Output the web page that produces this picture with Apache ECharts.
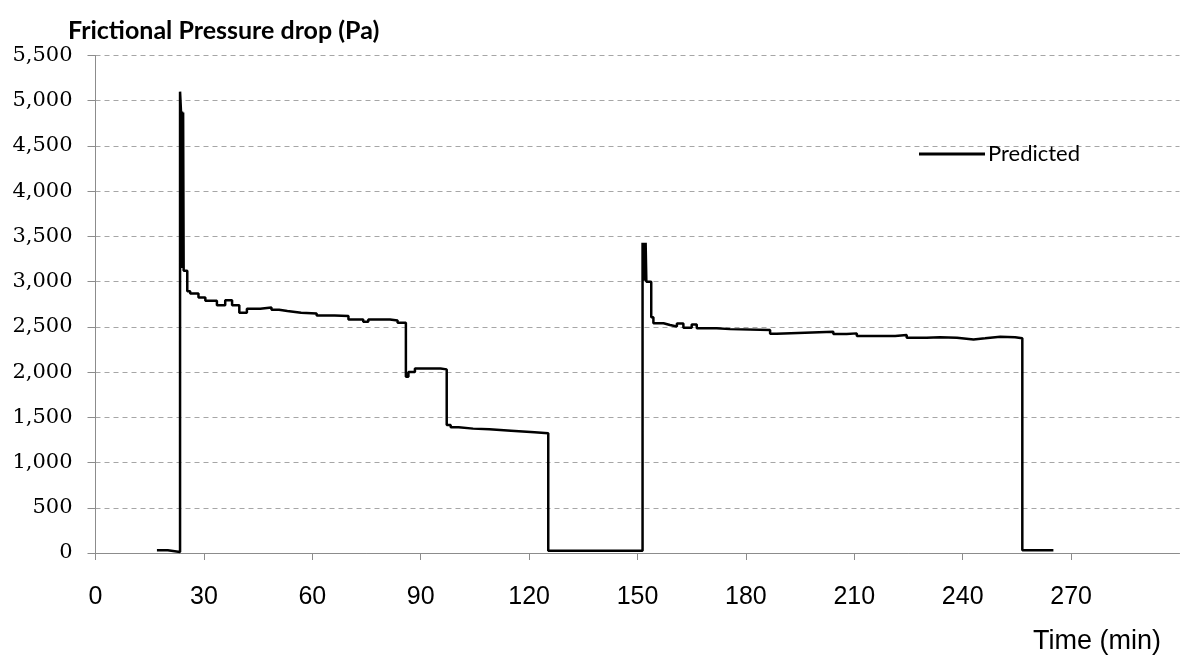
<!DOCTYPE html>
<html>
<head>
<meta charset="utf-8">
<script src="https://cdn.jsdelivr.net/npm/echarts@6/dist/echarts.min.js"></script>
<style>
  html, body { margin: 0; padding: 0; background: #ffffff; }
  #chart { width: 1187px; height: 666px; }
</style>
</head>
<body>
<div id="chart"></div>
<script>
// Frictional pressure drop over time; each value holds until the next time stamp.
const timeMin = [
  17.0, 20.0,
  23.4, 23.65, 23.8, 23.95, 24.1, 24.25, 24.4,
  25.4, 26.2, 28.5, 30.4, 33.6, 35.9, 37.8, 39.8, 41.9, 45.6, 48.7, 50.8, 53.1,
  56.9, 61.2, 66.2, 70.0, 74.1, 75.5, 81.5, 83.6,
  85.9, 86.6, 88.4, 94.6, 95.5,
  97.2, 98.3, 100.5, 104.5, 109.0, 115.0, 121.5,
  125.3,
  151.4, 151.65, 151.85, 152.05, 152.25, 152.45,
  153.8, 154.4, 157.2, 159.0, 160.9, 162.7, 165.0, 166.4, 171.9, 175.6,
  186.7, 188.5, 204.2, 207.9, 210.7, 221.3, 224.5, 230.0, 233.7, 238.4,
  243.0, 246.2, 250.4, 254.5,
  256.5, 265.1
];
const pressurePa = [
  30, 12,
  5100, 4890, 3150, 4880, 3150, 4870, 3120,
  2895, 2870, 2825, 2790, 2740, 2795, 2740, 2655, 2700, 2715, 2690, 2675, 2655,
  2648, 2625, 2620, 2582, 2556, 2582, 2570, 2545,
  1948, 2000, 2040, 2040, 2030,
  1414, 1390, 1375, 1367, 1351, 1334, 1323,
  25,
  3430, 3010, 3430, 3010, 3430, 3000,
  2605, 2540, 2520, 2505, 2538, 2490, 2527, 2485, 2475, 2465,
  2425, 2445, 2420, 2428, 2398, 2409, 2379, 2384, 2379, 2361,
  2373, 2390, 2384, 2373,
  30, 30
];

const seriesName = 'Predicted';
const chartTitle = 'Frictional Pressure drop (Pa)';
const xAxisTitle = 'Time (min)';
const xRange = [0, 300];
const xStep = 30;
const yRange = [0, 5500];
const yStep = 500;

const chart = echarts.init(document.getElementById('chart'), null, { renderer: 'canvas' });

const gridColor = '#a6a6a6';
const axisColor = '#8c8c8c';

chart.setOption({
  animation: false,
  backgroundColor: '#ffffff',
  title: [
    {
      text: chartTitle,
      left: 68, top: 18, padding: 0,
      textStyle: { fontFamily: 'Lato', fontWeight: 'bold', fontSize: 25, color: '#000' }
    },
    {
      text: xAxisTitle,
      right: 26, top: 628, padding: 0,
      textStyle: { fontFamily: 'Liberation Sans', fontWeight: 'normal', fontSize: 27, color: '#000' }
    }
  ],
  legend: {
    left: 919, top: 143, padding: 0,
    itemWidth: 66, itemHeight: 3, itemGap: 4,
    textStyle: { fontFamily: 'Lato', fontSize: 22, color: '#000', padding: [0, 0, 0, -2] },
    data: [{ name: seriesName, icon: 'rect', itemStyle: { color: '#000' } }]
  },
  grid: { left: 95.5, right: 7.5, top: 55.5, bottom: 113, containLabel: false },
  xAxis: {
    type: 'value',
    min: xRange[0], max: xRange[1], interval: xStep,
    axisLine: { show: true, lineStyle: { color: axisColor, width: 1 } },
    axisTick: { show: true, length: 7, lineStyle: { color: axisColor } },
    axisLabel: {
      showMaxLabel: false,
      margin: 32,
      fontFamily: 'Liberation Sans', fontSize: 25, color: '#000'
    },
    splitLine: { show: false }
  },
  yAxis: {
    type: 'value',
    min: yRange[0], max: yRange[1], interval: yStep,
    axisLine: { show: true, lineStyle: { color: axisColor, width: 1 } },
    axisTick: { show: true, length: 8, lineStyle: { color: axisColor } },
    axisLabel: {
      margin: 23,
      fontFamily: 'DejaVu Serif', fontSize: 21, color: '#000',
      formatter: v => v.toLocaleString('en-US')
    },
    splitLine: { show: true, lineStyle: { color: gridColor, type: [5, 4], width: 1 } }
  },
  series: [{
    name: seriesName,
    type: 'line',
    step: 'end',
    symbol: 'none',
    data: timeMin.map((t, i) => [t, pressurePa[i]]),
    lineStyle: { color: '#000', width: 2.5 },
    itemStyle: { color: '#000' }
  }]
});
</script>
</body>
</html>
